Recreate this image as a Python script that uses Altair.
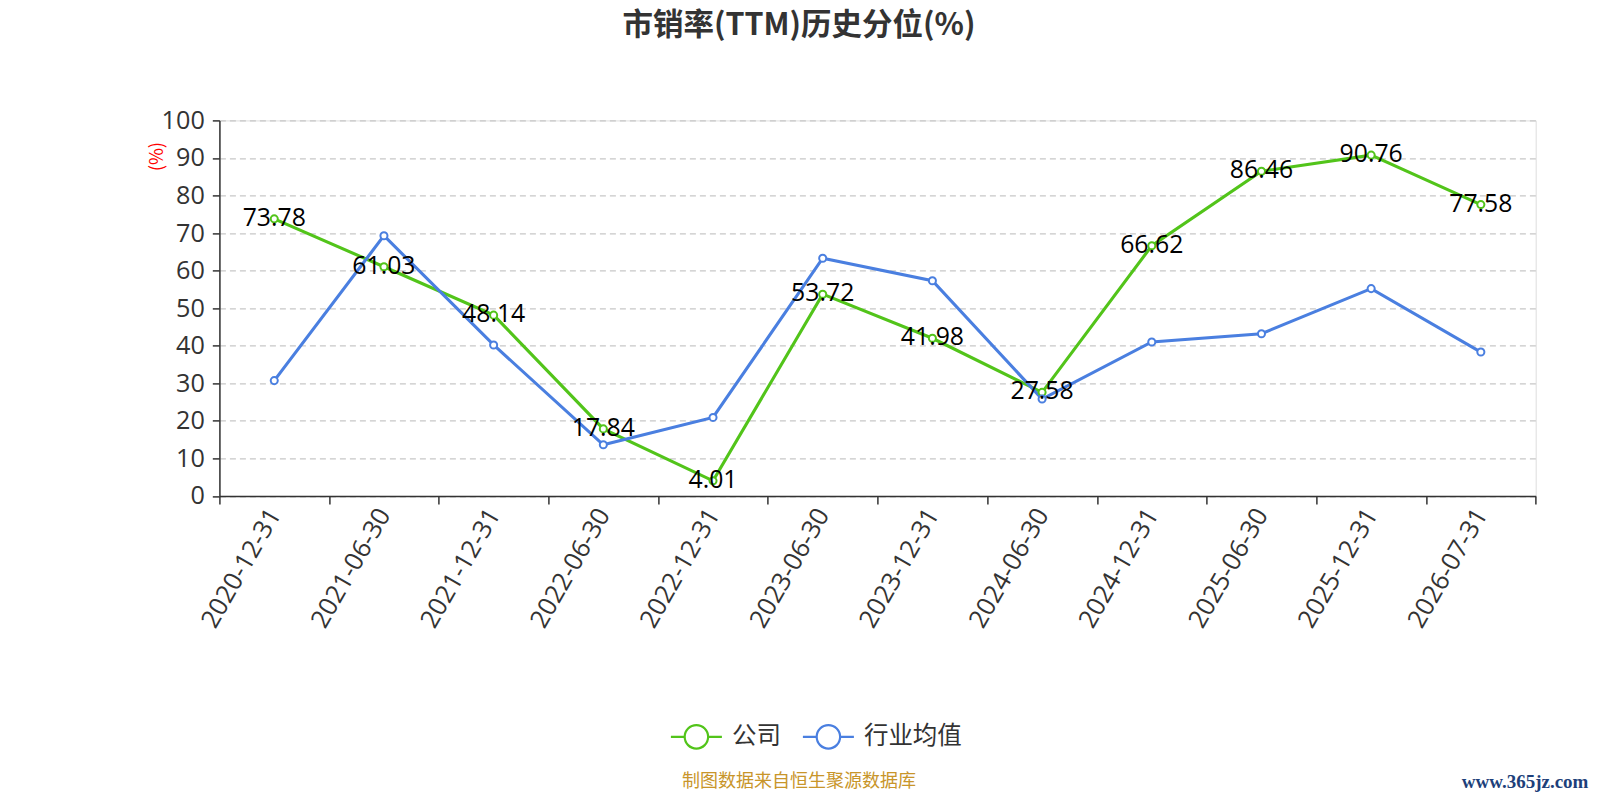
import altair as alt
import pandas as pd

dates = ["2020-12-31", "2021-06-30", "2021-12-31", "2022-06-30", "2022-12-31", "2023-06-30",
         "2023-12-31", "2024-06-30", "2024-12-31", "2025-06-30", "2025-12-31", "2026-07-31"]
company = [73.78, 61.03, 48.14, 17.84, 4.01, 53.72, 41.98, 27.58, 66.62, 86.46, 90.76, 77.58]
industry = [30.7, 69.3, 40.2, 13.6, 20.9, 63.3, 57.3, 25.8, 41.0, 43.2, 55.2, 38.3]
series_names = ["公司", "行业均值"]
series_colors = ["#52c41a", "#4a7fe0"]

rows = []
for d, v in zip(dates, company):
    rows.append({"date": d, "value": v, "series": series_names[0]})
for d, v in zip(dates, industry):
    rows.append({"date": d, "value": v, "series": series_names[1]})
df = pd.DataFrame(rows)
df_company = df[df["series"] == series_names[0]]

FONT = "Open Sans, Noto Sans CJK SC"
CJK = "Noto Sans CJK SC"

legend_path = ("M-1,0 L-0.46,0 M0.46,0 L1,0 "
               "M-0.46,0 A0.46,0.46 0 1,1 0.46,0 A0.46,0.46 0 1,1 -0.46,0")

x_enc = alt.X("date:N", sort=dates, title=None,
              scale=alt.Scale(type="band", paddingInner=0, paddingOuter=0),
              axis=alt.Axis(labelAngle=-60, labelFontSize=25.5, labelColor="#333",
                            labelFont=FONT, tickBand="extent", tickSize=8.2,
                            tickColor="#333", domainColor="#333", domainWidth=1.5,
                            tickWidth=1.5, labelPadding=6, grid=False))
y_enc = alt.Y("value:Q", title="(%)",
              scale=alt.Scale(domain=[0, 100], nice=False),
              axis=alt.Axis(values=list(range(0, 101, 10)), labelFontSize=25.2,
                            labelColor="#333", labelFont=FONT, tickSize=7.1,
                            tickColor="#333", domainColor="#333", domainWidth=1.5,
                            tickWidth=1.5, labelPadding=8,
                            grid=True, gridColor="#c8c8c8", gridDash=[6, 4], gridWidth=1.3,
                            titleColor="red", titleFontSize=18.4, titleFont=CJK,
                            titleFontWeight="normal", titleAngle=-90,
                            titleX=-63.3, titleY=35.7, titleAlign="center", titleBaseline="middle"))
color_enc = alt.Color("series:N", scale=alt.Scale(domain=series_names, range=series_colors),
                      sort=series_names,
                      legend=alt.Legend(title=None, orient="none", direction="horizontal",
                                        legendX=450, legendY=589,
                                        symbolType=legend_path, symbolSize=2601,
                                        symbolStrokeWidth=2.2, symbolFillColor="white",
                                        labelFontSize=24.5, labelColor="#333", labelFont=CJK,
                                        labelOffset=8.5, columnPadding=17))

lines = alt.Chart(df).mark_line(strokeWidth=3.1).encode(x=x_enc, y=y_enc, color=color_enc)
points = alt.Chart(df).mark_point(filled=True, fill="white", size=50, strokeWidth=2, opacity=1).encode(
    x=x_enc, y=y_enc,
    stroke=alt.Stroke("series:N", scale=alt.Scale(domain=series_names, range=series_colors), legend=None))
labels = alt.Chart(df_company).mark_text(fontSize=24.8, color="black", font=FONT,
                                         baseline="middle", align="center").encode(
    x=x_enc, y=y_enc, text=alt.Text("value:Q", format=".2f"))

footer = alt.Chart(pd.DataFrame({"t": ["制图数据来自恒生聚源数据库"]})).mark_text(
    fontSize=18, color="#c8952a", font=CJK, align="center", baseline="middle").encode(
    x=alt.value(579.6), y=alt.value(661.5), text="t:N")
watermark = alt.Chart(pd.DataFrame({"t": ["www.365jz.com"]})).mark_text(
    fontSize=19, color="#1d3f7a", font="Liberation Serif", fontWeight="bold",
    align="right", baseline="middle").encode(
    x=alt.value(1369), y=alt.value(661.5), text="t:N")

chart = alt.layer(lines, points, labels, footer, watermark).properties(
    width=1316.3, height=375.5,
    title=alt.TitleParams("市销率(TTM)历史分位(%)", font=CJK, fontSize=30.5, fontWeight="bold",
                          color="#333", anchor="middle", frame="group", dx=-78.6, offset=66.5),
    autosize=alt.AutoSizeParams(type="none"),
    padding={"left": 211.4, "top": 112.4, "right": 56.3, "bottom": 296},
).configure_view(stroke=None).configure(background="white")

chart.save("out.html", embed_options={"renderer": "svg", "actions": False})
